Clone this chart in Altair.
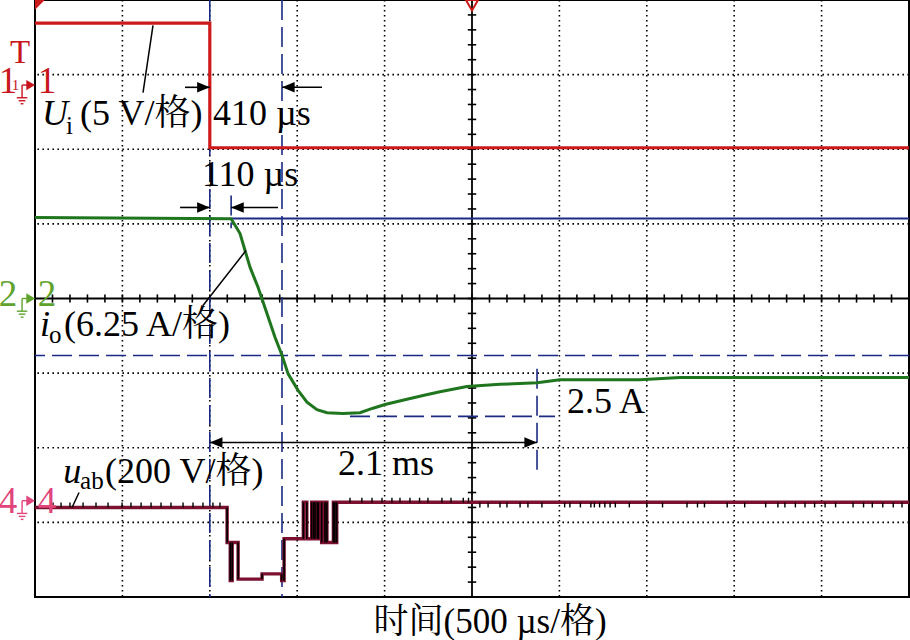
import altair as alt
import numpy as np
import pandas as pd

# ---------------- data (time in µs, amplitude in screen divisions) ----------------
ui_t = [-2500, -1500, -1500, 2500]
ui_v = [3.69, 3.69, 2.02, 2.02]

io_t = [-2500, -1378, -1327, -1298, -1270, -1224, -1173, -1127, -1087, -1052, -995, -944,
        -887, -829, -738, -641, -566, -498, -372, -280, -183, -29, 160, 372, 503, 961, 1190, 2500]
io_v = [1.086, 1.07, 0.87, 0.64, 0.42, 0.15, -0.20, -0.52, -0.76, -1.01, -1.23, -1.39,
        -1.49, -1.53, -1.54, -1.53, -1.47, -1.42, -1.35, -1.30, -1.25, -1.18, -1.15, -1.13, -1.09, -1.09, -1.06, -1.06]

uab_t = [-2500, -1401, -1383, -1372, -1338, -1201, -1089, -1075, -965, -945, -917, -905, -898, -885,
         -879, -860, -841, -830, -793, -785, -774, 2500]
uab_v = [-2.80, -3.27, -3.78, -3.27, -3.76, -3.69, -3.78, -3.22, -2.73, -3.22, -2.73, -3.22, -2.73, -3.22,
         -2.73, -3.27, -2.73, -3.27, -2.73, -3.27, -2.73, -2.73]

# small noise spikes on u_ab
noise_left_t = [-2397, -2351, -2300, -2225, -2151, -2082, -2002, -1951, -1893, -1836, -1779, -1722,
                -1653, -1596, -1539, -1482, -1442]
noise_up_t = [-698, -630, -572, -515, -458, -412, -355, -300, -252, -172, -120, -50, -20]
noise_dn_t = [45, 92, 160, 200, 275, 320, 400, 530, 560, 620, 680, 700, 730, 760, 790, 820, 900,
              1000, 1090, 1230, 1290, 1330, 1460, 1560, 1680, 1750, 1790, 1850, 1905, 1960, 2020,
              2080, 2180, 2240, 2290, 2350, 2410, 2460]

# cursors
cursor_vert_t = [-1500, -1087]
cursor_horiz_v = [-0.764]
blue_solid = {"t": -1373, "t2": 2500, "v": 1.072}

# measurement arrows
arrow_lines = pd.DataFrame({
    "t": [-1642, -1087, -1670, -1378, -1500],
    "t2": [-1500, -858, -1500, -1110, 372],
    "v": [2.83, 2.83, 1.22, 1.22, -1.93],
})
tips_right = pd.DataFrame({"t": [-1500, -1500, 372], "v": [2.83, 1.22, -1.93]})
tips_left = pd.DataFrame({"t": [-1087, -1378, -1500], "v": [2.83, 1.22, -1.93]})

# short dashed markers
short_dash = pd.DataFrame({
    "t": [-1378, 372, -698],
    "t2": [-1378, 372, 475],
    "v": [1.38, -0.94, -1.58],
    "v2": [0.94, -2.37, -1.58],
})

# leader lines from labels to traces
leaders = pd.DataFrame({
    "t": [-1882, -1539, -2288],
    "v": [2.76, -0.094, -2.80],
    "t2": [-1825, -1293, -2248],
    "v2": [3.66, 0.643, -2.60],
})

# texts
reg_text = pd.DataFrame({
    "t": [-2242, -1481, -1545, -2334, -2099, -766, 543],
    "v": [2.33, 2.33, 1.51, -0.50, -2.47, -2.37, -1.53],
    "label": ["(5 V/格)", "410 µs", "110 µs", "(6.25 A/格)", "(200 V/格)", "2.1 ms", "2.5 A"],
})
sub_text = pd.DataFrame({
    "t": [-2322, -2420, -2242],
    "v": [2.20, -0.60, -2.55],
    "label": ["i", "o", "ab"],
})
ital_text = pd.DataFrame({
    "t": [-2460, -2471, -2339],
    "v": [2.33, -0.50, -2.47],
    "label": ["U", "i", "u"],
})
xtitle = pd.DataFrame({"t": [103], "v": [-4.48], "label": ["时间(500 µs/格)"]})

# channel markers at the left edge
chan = pd.DataFrame({
    "name": ["1", "2", "4"],
    "v_base": [2.76, -0.094, -2.87],
    "v_arrow": [2.86, 0.0, -2.71],
    "color": ["#c8161d", "#5fa32e", "#e0457b"],
})

RED = "#cc1a1a"
GREEN = "#1f761f"
MAROON = "#7b1030"
NAVY = "#1b2a82"
SERIF = "Liberation Serif, Noto Serif CJK SC, Noto Sans CJK SC"

xs = alt.Scale(domain=[-2500, 2500], nice=False, zero=False)
ys = alt.Scale(domain=[-4, 4], nice=False, zero=False)


def X(f="t"):
    return alt.X(f"{f}:Q", scale=xs, axis=None)


def Y(f="v"):
    return alt.Y(f"{f}:Q", scale=ys, axis=None)


def X2(f="t2"):
    return alt.X2(f"{f}:Q")


def Y2(f="v2"):
    return alt.Y2(f"{f}:Q")


layers = []

# dotted grid
grid_t = pd.DataFrame({"t": [-2000, -1500, -1000, -500, 500, 1000, 1500, 2000]})
grid_v = pd.DataFrame({"v": [-3, -2, -1, 1, 2, 3]})
layers.append(alt.Chart(grid_t).mark_rule(color="black", strokeWidth=1.6, strokeDash=[1.6, 3.4]).encode(x=X()))
layers.append(alt.Chart(grid_v).mark_rule(color="black", strokeWidth=1.6, strokeDash=[1.6, 3.4]).encode(y=Y()))

# center axes + minor ticks
layers.append(alt.Chart(pd.DataFrame({"t": [0]})).mark_rule(color="black", strokeWidth=1.8).encode(x=X()))
layers.append(alt.Chart(pd.DataFrame({"v": [0]})).mark_rule(color="black", strokeWidth=1.8).encode(y=Y()))
tk_t = np.arange(-2500, 2501, 100)
layers.append(alt.Chart(pd.DataFrame({"t": tk_t, "v": -0.055, "v2": 0.055}))
              .mark_rule(color="black", strokeWidth=1.6).encode(x=X(), y=Y(), y2=Y2()))
tk_v = np.round(np.arange(-4, 4.001, 0.2), 2)
layers.append(alt.Chart(pd.DataFrame({"v": tk_v, "t": -24, "t2": 24}))
              .mark_rule(color="black", strokeWidth=1.6).encode(y=Y(), x=X(), x2=X2()))

# cursors
layers.append(alt.Chart(pd.DataFrame({"t": cursor_vert_t}))
              .mark_rule(color=NAVY, strokeWidth=1.6, strokeDash=[20, 7]).encode(x=X()))
layers.append(alt.Chart(pd.DataFrame({"v": cursor_horiz_v}))
              .mark_rule(color=NAVY, strokeWidth=1.6, strokeDash=[20, 7]).encode(y=Y()))
layers.append(alt.Chart(short_dash)
              .mark_rule(color=NAVY, strokeWidth=1.6, strokeDash=[20, 7]).encode(x=X(), x2=X2(), y=Y(), y2=Y2()))
layers.append(alt.Chart(pd.DataFrame([blue_solid]))
              .mark_rule(color=NAVY, strokeWidth=1.8).encode(x=X(), x2=X2(), y=Y()))

# traces
ui_df = pd.DataFrame({"t": ui_t, "v": ui_v, "i": range(len(ui_t))})
layers.append(alt.Chart(ui_df).mark_line(color=RED, strokeWidth=3.2)
              .encode(x=X(), y=Y(), order="i:Q"))

io_df = pd.DataFrame({"t": io_t, "v": io_v, "i": range(len(io_t))})
layers.append(alt.Chart(io_df).mark_line(color=GREEN, strokeWidth=3)
              .encode(x=X(), y=Y(), order="i:Q"))

uab_df = pd.DataFrame({"t": uab_t, "v": uab_v, "i": range(len(uab_t))})
layers.append(alt.Chart(uab_df).mark_line(color=MAROON, strokeWidth=3.4, interpolate="step-after")
              .encode(x=X(), y=Y(), order="i:Q"))
uab_vert = pd.DataFrame({"t": uab_t[1:], "v": uab_v[:-1], "v2": uab_v[1:]})
uab_vert = uab_vert[uab_vert["v"] != uab_vert["v2"]]
layers.append(alt.Chart(uab_vert).mark_rule(color="black", strokeWidth=1.6)
              .encode(x=X(), y=Y(), y2=Y2()))
noise = pd.concat([
    pd.DataFrame({"t": noise_left_t, "v": -2.80, "v2": -2.735}),
    pd.DataFrame({"t": noise_up_t, "v": -2.735, "v2": -2.67}),
    pd.DataFrame({"t": noise_dn_t, "v": -2.735, "v2": -2.80}),
])
layers.append(alt.Chart(noise).mark_rule(color="black", strokeWidth=1.4)
              .encode(x=X(), y=Y(), y2=Y2()))

# measurement arrows
layers.append(alt.Chart(arrow_lines).mark_rule(color="black", strokeWidth=1.6)
              .encode(x=X(), x2=X2(), y=Y()))
layers.append(alt.Chart(tips_right).mark_point(shape="M0,0L-1,-0.42L-1,0.42Z", size=640, filled=True,
                                               color="black", opacity=1).encode(x=X(), y=Y()))
layers.append(alt.Chart(tips_left).mark_point(shape="M0,0L1,-0.42L1,0.42Z", size=640, filled=True,
                                              color="black", opacity=1).encode(x=X(), y=Y()))

# leader lines
layers.append(alt.Chart(leaders).mark_rule(color="black", strokeWidth=1.5)
              .encode(x=X(), y=Y(), x2=X2(), y2=Y2()))

# trigger markers
layers.append(alt.Chart(pd.DataFrame({"t": [0], "v": [3.93]}))
              .mark_point(shape="triangle-down", size=150, filled=False, color=RED, strokeWidth=2, opacity=1)
              .encode(x=X(), y=Y()))
layers.append(alt.Chart(pd.DataFrame({"t": [-2500], "v": [4]}))
              .mark_point(shape="M0,0L1,0L0,1Z", size=380, filled=True, color=RED, opacity=1)
              .encode(x=X(), y=Y()))

# texts
layers.append(alt.Chart(reg_text).mark_text(font=SERIF, fontSize=36, align="left", baseline="alphabetic",
                                            color="black").encode(x=X(), y=Y(), text="label:N"))
layers.append(alt.Chart(sub_text).mark_text(font=SERIF, fontSize=25, align="left", baseline="alphabetic",
                                            color="black").encode(x=X(), y=Y(), text="label:N"))
layers.append(alt.Chart(ital_text).mark_text(font=SERIF, fontSize=36, fontStyle="italic", align="left",
                                             baseline="alphabetic", color="black")
              .encode(x=X(), y=Y(), text="label:N"))
layers.append(alt.Chart(xtitle).mark_text(font=SERIF, fontSize=35, align="center", baseline="alphabetic",
                                          color="black").encode(x=X(), y=Y(), text="label:N"))

# channel markers
col = alt.Color("color:N", scale=None)
layers.append(alt.Chart(chan).transform_calculate(t="-2654")
              .mark_text(font=SERIF, fontSize=37, align="center", baseline="alphabetic")
              .encode(x=X(), y=Y("v_base"), text="name:N", color=col))
layers.append(alt.Chart(chan).transform_calculate(t="-2431")
              .mark_text(font=SERIF, fontSize=37, align="center", baseline="alphabetic")
              .encode(x=X(), y=Y("v_base"), text="name:N", color=col))
layers.append(alt.Chart(chan).transform_calculate(t="-2500")
              .mark_point(shape="M0,0L-1,-0.6L-1,0.6Z", size=300, filled=True, opacity=1)
              .encode(x=X(), y=Y("v_arrow"), color=col))
layers.append(alt.Chart(chan).transform_calculate(t="-2574", t2="-2523")
              .mark_rule(strokeWidth=1.4).encode(x=X(), x2=X2(), y=Y("v_arrow"), color=col))
layers.append(alt.Chart(chan).transform_calculate(t="-2574", v2="datum.v_arrow - 0.17")
              .mark_rule(strokeWidth=1.4).encode(x=X(), y=Y("v_arrow"), y2=Y2(), color=col))
for dv, half in [(0.17, 30), (0.21, 19), (0.25, 8)]:
    layers.append(alt.Chart(chan)
                  .transform_calculate(t=f"{-2574 - half}", t2=f"{-2574 + half}", v=f"datum.v_arrow - {dv}")
                  .mark_rule(strokeWidth=1.4).encode(x=X(), x2=X2(), y=Y(), color=col))
layers.append(alt.Chart(pd.DataFrame({"t": [-2585], "v": [3.15], "label": ["T"]}))
              .mark_text(font=SERIF, fontSize=33, align="center", baseline="alphabetic", color="#c8161d")
              .encode(x=X(), y=Y(), text="label:N"))
layers.append(alt.Chart(pd.DataFrame({"t": [-2612], "v": [2.80], "label": ["1"]}))
              .mark_text(font=SERIF, fontSize=15, align="center", baseline="alphabetic", color="#c8161d")
              .encode(x=X(), y=Y(), text="label:N"))

chart = (
    alt.layer(*layers)
    .properties(width=874, height=597, autosize=alt.AutoSizeParams(type="none"),
                padding={"left": 35, "top": 0, "right": 1, "bottom": 43}, background="white")
    .configure_view(stroke="black", strokeWidth=2)
)

chart.save("out.html", embed_options={"renderer": "svg", "actions": False})
